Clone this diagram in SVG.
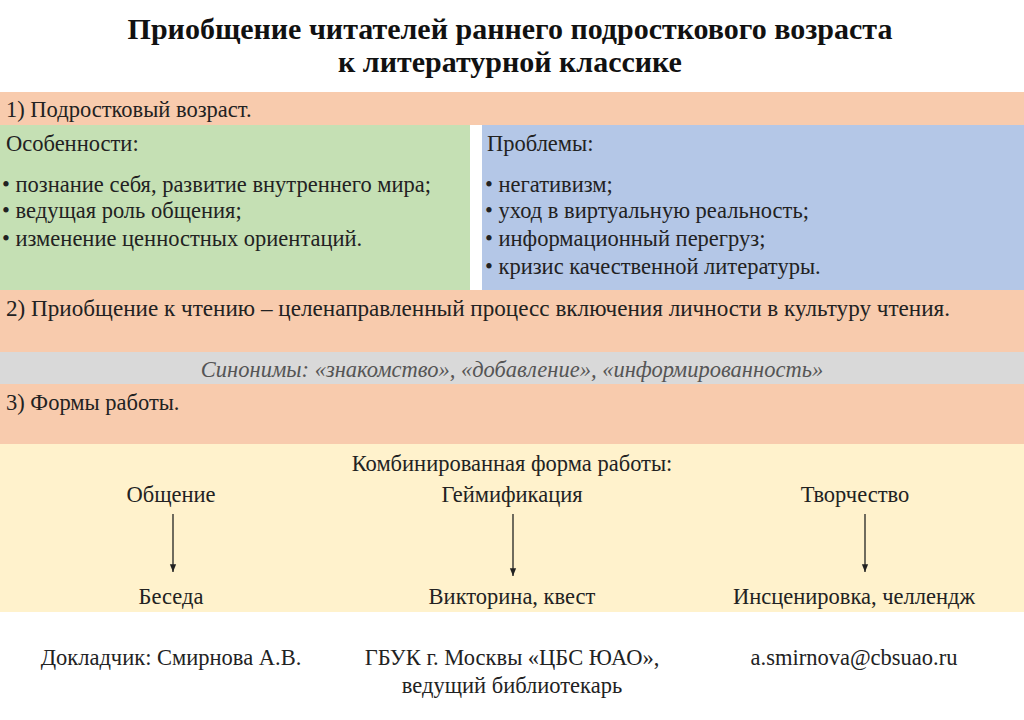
<svg xmlns="http://www.w3.org/2000/svg" width="1024" height="720" viewBox="0 0 1024 720">
<style>
text{font-family:"Liberation Serif","Times New Roman",serif;font-size:22.5px;fill:#222}
.t{font-size:30px;font-weight:bold;text-anchor:middle;fill:#111}
.c{text-anchor:middle}
.ar{stroke:#222;stroke-width:1.3;fill:none}
</style>
<defs><marker id="a" viewBox="0 0 10 10" refX="10" refY="5" markerWidth="6" markerHeight="6" orient="auto"><path d="M0,1 L10,5 L0,9 z" fill="#222"/></marker></defs>
<rect width="1024" height="720" fill="#fff"/>
<text class="t" x="510" y="39">Приобщение читателей раннего подросткового возраста</text>
<text class="t" x="510" y="72">к литературной классике</text>
<g id="band1"><rect x="0" y="92" width="1024" height="33" fill="#f8cbad"/><text x="6" y="117">1) Подростковый возраст.</text></g>
<g id="features"><rect x="0" y="125" width="470" height="165" fill="#c5e0b4"/>
<text x="6" y="151">Особенности:</text>
<text x="2" y="192">• познание себя, развитие внутреннего мира;</text>
<text x="2" y="218">• ведущая роль общения;</text>
<text x="2" y="246">• изменение ценностных ориентаций.</text></g>
<g id="problems"><rect x="482" y="125" width="542" height="165" fill="#b4c7e7"/>
<text x="487" y="151">Проблемы:</text>
<text x="485" y="192">• негативизм;</text>
<text x="485" y="218">• уход в виртуальную реальность;</text>
<text x="485" y="246">• информационный перегруз;</text>
<text x="485" y="274">• кризис качественной литературы.</text></g>
<g id="band2"><rect x="0" y="290" width="1024" height="62" fill="#f8cbad"/><text x="6" y="316" textLength="944" lengthAdjust="spacingAndGlyphs">2) Приобщение к чтению – целенаправленный процесс включения личности в культуру чтения.</text></g>
<g id="syn"><rect x="0" y="352" width="1024" height="32" fill="#d9d9d9"/><text class="c" x="512" y="377" font-style="italic" style="fill:#555">Синонимы: «знакомство», «добавление», «информированность»</text></g>
<g id="band3"><rect x="0" y="384" width="1024" height="60" fill="#f8cbad"/><text x="6" y="410">3) Формы работы.</text></g>
<g id="forms"><rect x="0" y="444" width="1024" height="168" fill="#fff2cc"/>
<text class="c" x="512" y="471">Комбинированная форма работы:</text>
<g id="n1"><text class="c" x="171" y="502">Общение</text></g>
<g id="n2"><text class="c" x="512" y="502">Геймификация</text></g>
<g id="n3"><text class="c" x="855" y="502">Творчество</text></g>
<g id="n4"><text class="c" x="171" y="604">Беседа</text></g>
<g id="n5"><text class="c" x="512" y="604">Викторина, квест</text></g>
<g id="n6"><text class="c" x="854" y="604">Инсценировка, челлендж</text></g>
</g>
<g id="connectors">
<line class="ar" x1="173" y1="514" x2="173" y2="572" marker-end="url(#a)"/>
<line class="ar" x1="513" y1="514" x2="513" y2="576" marker-end="url(#a)"/>
<line class="ar" x1="865" y1="514" x2="865" y2="572" marker-end="url(#a)"/>
</g>
<text class="c" x="171" y="665">Докладчик: Смирнова А.В.</text>
<text class="c" x="512" y="665">ГБУК г. Москвы «ЦБС ЮАО»,</text>
<text class="c" x="512" y="693">ведущий библиотекарь</text>
<text class="c" x="854" y="665">a.smirnova@cbsuao.ru</text>
</svg>
